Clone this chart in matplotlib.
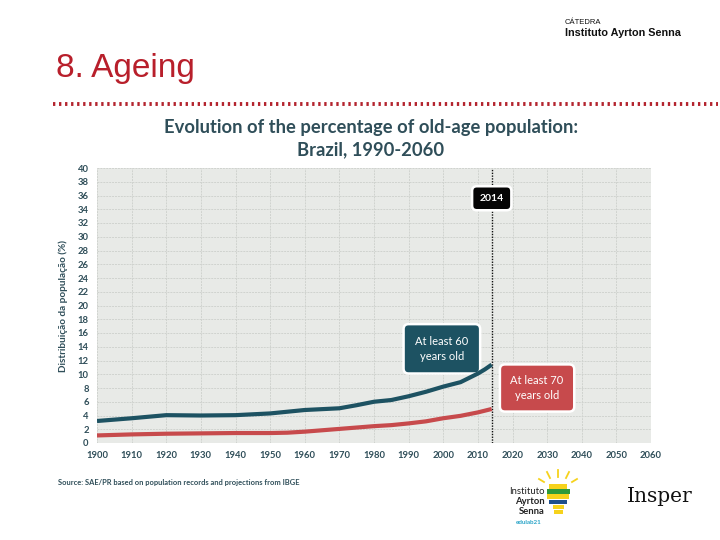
import numpy as np
import matplotlib
matplotlib.use('Agg')
import matplotlib.pyplot as plt
from matplotlib.lines import Line2D
from matplotlib.patches import Rectangle

# data
years = [1900, 1910, 1920, 1930, 1940, 1950, 1955, 1960, 1970, 1975, 1980,
         1985, 1990, 1995, 2000, 2005, 2008, 2010, 2012, 2014]
age60 = [3.2, 3.6, 4.05, 4.0, 4.05, 4.3, 4.55, 4.8, 5.05, 5.5, 6.0,
         6.25, 6.8, 7.45, 8.2, 8.85, 9.6, 10.1, 10.7, 11.4]
age70 = [1.1, 1.25, 1.35, 1.4, 1.45, 1.45, 1.5, 1.65, 2.05, 2.25, 2.45,
         2.6, 2.85, 3.15, 3.6, 3.95, 4.25, 4.45, 4.7, 4.95]
x_ticks = list(range(1900, 2061, 10))
y_ticks = list(range(0, 41, 2))
mark_year = 2014

teal = '#1d5262'
red = '#c74a4c'
txt = '#2f4e59'

W, H = 720, 540
fig = plt.figure(figsize=(7.2, 5.4), dpi=100)

def fx(px):
    return px / W

def fy(py):
    return 1 - py / H

# header
fig.text(fx(565), fy(22), 'CÁTEDRA', fontsize=5.5, family='Liberation Sans',
         va='center', ha='left', color='#111111')
fig.text(fx(565), fy(33), 'Instituto Ayrton Senna', fontsize=7.8, weight='bold',
         family='Liberation Sans', va='center', ha='left', color='#111111')
fig.text(fx(56), fy(68), '8. Ageing', fontsize=24, family='Liberation Sans',
         va='center', ha='left', color='#b81f2b')
fig.add_artist(Line2D([fx(53), fx(718)], [fy(104), fy(104)], transform=fig.transFigure,
                      color='#b3232d', lw=2.8, linestyle=(0, (0.6, 0.95))))

# title
fig.text(fx(371), fy(127), 'Evolution of the percentage of old-age population:',
         fontsize=13.2, weight='bold', family='Lato', ha='center', va='center', color=txt)
fig.text(fx(371), fy(150), 'Brazil, 1990-2060', fontsize=13.2, weight='bold',
         family='Lato', ha='center', va='center', color=txt)

ax = fig.add_axes([fx(97), fy(443), fx(651) - fx(97), fy(168) - fy(443)])
ax.set_facecolor('#e8eae7')
ax.set_xlim(1900, 2060)
ax.set_ylim(0, 40)
ax.set_xticks(x_ticks)
ax.set_yticks(y_ticks)
ax.grid(True, color='#d0d3cf', lw=0.7, linestyle=(0, (2, 1)))
ax.set_axisbelow(True)
for s in ax.spines.values():
    s.set_visible(False)
ax.tick_params(length=0, labelsize=6.8, labelcolor=txt, pad=6)
for lab in ax.get_xticklabels() + ax.get_yticklabels():
    lab.set_fontweight('bold')
    lab.set_family('Lato')
ax.set_ylabel('Distribuição da população (%)', fontsize=7.2, color=txt,
              family='Lato', weight='bold', labelpad=7)

ax.plot(years, age60, color=teal, lw=3, solid_capstyle='butt', zorder=4)
ax.plot(years, age70, color=red, lw=3, solid_capstyle='butt', zorder=4)
ax.axvline(mark_year, color='#111111', lw=1, linestyle=(0, (1, 1)), zorder=3)

box = dict(boxstyle='round,rounding_size=0.45', ec='white', lw=1.8)
ax.text(mark_year, 35.6, str(mark_year), fontsize=7.5, weight='bold', family='Lato',
        color='white', ha='center', va='center', zorder=5,
        bbox=dict(box, fc='#050505', pad=0.72))
ax.text(1999.6, 13.7, 'At least 60\nyears old', fontsize=8, family='Lato',
        color='white', ha='center', va='center', linespacing=1.45, zorder=3.5,
        bbox=dict(box, fc=teal, pad=1.05))
ax.text(2027.1, 8.0, 'At least 70\nyears old', fontsize=8, family='Lato',
        color='white', ha='center', va='center', linespacing=1.45, zorder=5,
        bbox=dict(box, fc=red, pad=0.95))

# footer
fig.text(fx(58), fy(483), 'Source: SAE/PR based on population records and projections from IBGE',
         fontsize=5.4, weight='bold', family='Lato', color=txt, va='center')

fig.text(fx(545), fy(491), 'Instituto', fontsize=6.8, family='Lato', ha='right',
         va='center', color='#222222')
fig.text(fx(545), fy(501), 'Ayrton', fontsize=6.8, weight='bold', family='Lato',
         ha='right', va='center', color='#222222')
fig.text(fx(545), fy(511), 'Senna', fontsize=6.8, weight='bold', family='Lato',
         ha='right', va='center', color='#222222')
fig.text(fx(529), fy(522), 'edulab21', fontsize=4.5, weight='bold', family='Lato',
         ha='center', va='center', color='#2aa4c8')

# bulb logo
stripes = [('#f6d21c', 484, 489, 18), ('#2f9a3a', 489, 494, 23), ('#f6d21c', 494, 499, 22),
           ('#1f4f8c', 500, 504, 18), ('#f6d21c', 505, 509, 11), ('#f6d21c', 510, 514, 9)]
for c, y0, y1, w in stripes:
    fig.add_artist(Rectangle((fx(558 - w / 2), fy(y1)), fx(w), fy(y0) - fy(y1),
                             transform=fig.transFigure, color=c, lw=0))
for x0, y0, x1, y1 in [(558, 477, 558, 470), (550, 478, 547, 472), (566, 478, 569, 472),
                       (544, 482, 539, 479), (572, 482, 577, 479)]:
    fig.add_artist(Line2D([fx(x0), fx(x1)], [fy(y0), fy(y1)], transform=fig.transFigure,
                          color='#f6d21c', lw=1.3))

fig.text(fx(660), fy(496), 'Insper', fontsize=14.5, family='DejaVu Serif',
         ha='center', va='center', color='#111111')

fig.savefig('out.png', dpi=100)
